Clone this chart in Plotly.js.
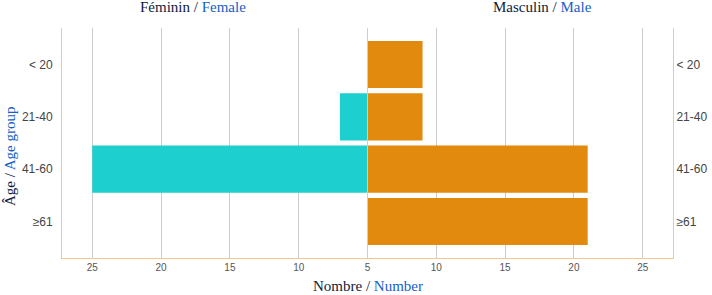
<!DOCTYPE html>
<html><head><meta charset="utf-8">
<script src="https://cdn.plot.ly/plotly-3.0.1.min.js"></script>
<style>body{margin:0;background:#fff}#c{width:712px;height:295px}</style>
</head><body><div id="c"></div>
<script>
const ageGroups = ['< 20', '21-40', '41-60', '≥61'];
const female = [0, 7, 25, 0];
const male = [9, 9, 21, 21];
const xTicks = [5, 10, 15, 20, 25];
const xTickLabelsLeft = ['', '10', '15', '20', '25'];
const xTickLabelsRight = ['5', '10', '15', '20', '25'];

const dark = '#0d1b3e', blue = '#1660c8';
const lineCol = '#f3c88c';
const serif = 'Liberation Serif, DejaVu Serif, serif';
const sans = 'Liberation Sans, Arial, sans-serif';

const traces = [
  {type:'bar', orientation:'h', y: ageGroups, x: female, xaxis:'x', yaxis:'y',
   marker:{color:'#1ecfcf'}, width:0.9, hoverinfo:'x+y', showlegend:false},
  {type:'bar', orientation:'h', y: ageGroups, x: male, xaxis:'x2', yaxis:'y2',
   marker:{color:'#e28a0e'}, width:0.9, hoverinfo:'x+y', showlegend:false}
];

const xCommon = {tickvals: xTicks, showgrid:true, gridcolor:'#cccccc', gridwidth:1,
  zeroline:false, showline:true, linecolor:lineCol, linewidth:1, ticks:'',
  tickfont:{family:sans, size:10, color:'#555'}, fixedrange:true};
const yCommon = {type:'category', categoryarray: ageGroups, range:[3.7, -0.7], showgrid:false, zeroline:false,
  showline:true, linecolor:lineCol, linewidth:1, ticks:'', tickfont:{family:sans, size:12, color:'#444'}};

const layout = {
  width:712, height:295, margin:{l:62, r:39, t:28, b:37},
  paper_bgcolor:'#fff', plot_bgcolor:'#fff', bargap:0.1,
  xaxis: Object.assign({}, xCommon, {domain:[0,0.5], range:[27.2, 5], anchor:'y', ticktext: xTickLabelsLeft}),
  xaxis2: Object.assign({}, xCommon, {domain:[0.5,1], range:[5, 27.2], anchor:'y2', ticktext: xTickLabelsRight}),
  yaxis: Object.assign({}, yCommon, {anchor:'x', side:'left', ticklabelstandoff:6}),
  yaxis2: Object.assign({}, yCommon, {anchor:'x2', side:'right', mirror:true}),
  annotations: [
    {xref:'paper', yref:'paper', x:0.214, y:1, yshift:21, xanchor:'center', yanchor:'middle', showarrow:false,
     text:'Féminin / <span style="color:'+blue+'">Female</span>', font:{family:serif, size:15, color:dark}},
    {xref:'paper', yref:'paper', x:0.786, y:1, yshift:21, xanchor:'center', yanchor:'middle', showarrow:false,
     text:'Masculin / <span style="color:'+blue+'">Male</span>', font:{family:serif, size:15, color:dark}},
    {xref:'paper', yref:'paper', x:0.5, y:0, yshift:-28, xanchor:'center', yanchor:'middle', showarrow:false,
     text:'Nombre / <span style="color:'+blue+'">Number</span>', font:{family:serif, size:15, color:dark}},
    {xref:'paper', yref:'paper', x:0, xshift:-52, y:0.443, xanchor:'center', yanchor:'middle', showarrow:false, textangle:-90,
     text:'Âge / <span style="color:'+blue+'">Age group</span>', font:{family:serif, size:15, color:dark}}
  ]
};
Plotly.newPlot('c', traces, layout, {displayModeBar:false, staticPlot:true});
</script></body></html>
